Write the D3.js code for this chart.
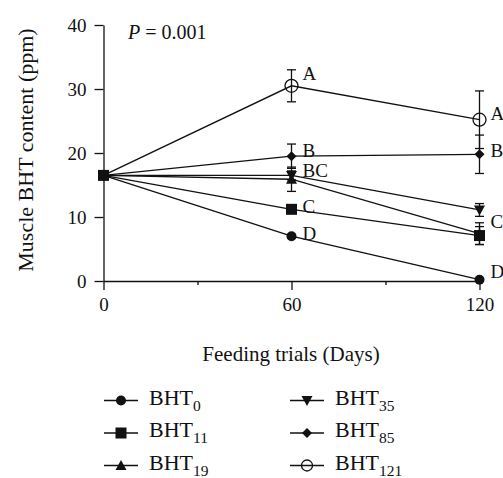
<!DOCTYPE html>
<html><head><meta charset="utf-8">
<script src="https://cdn.jsdelivr.net/npm/d3@7"></script>
<style>
html,body{margin:0;padding:0;background:#fff;}
svg text{font-family:"Liberation Serif","Times New Roman",serif;fill:#111;}
</style></head>
<body><svg id="c" width="503" height="478"></svg>
<script>
const days = [0, 60, 120];
const yTicks = [0, 10, 20, 30, 40];
const xMajorTicks = [0, 60, 120];
const xMinorTicks = [30, 90];
const seriesNames = ["BHT0", "BHT11", "BHT19", "BHT35", "BHT85", "BHT121"];
const seriesSubs = ["0", "11", "19", "35", "85", "121"];
const seriesSymbols = ["circle", "square", "triangle", "triangleDown", "diamond", "openCircle"];
const bht0 = [16.5, 7.0, 0.2];
const bht11 = [16.5, 11.2, 7.1];
const bht19 = [16.5, 15.9, 7.4];
const bht35 = [16.5, 16.5, 11.1];
const bht85 = [16.5, 19.5, 19.8];
const bht121 = [16.5, 30.5, 25.2];
const err0 = [0.3, 0.3, 0.2];
const err11 = [0.3, 0.4, 1.4];
const err19 = [0.3, 1.9, 1.7];
const err35 = [0.3, 0.7, 1.0];
const err85 = [0.3, 1.9, 3.0];
const err121 = [0.3, 2.5, 4.5];
const letterDays = [60, 60, 60, 60, 60, 120, 120, 120, 120];
const letterValues = [31.4, 19.4, 16.3, 10.6, 6.4, 25.2, 19.4, 8.3, 0.5];
const letterTexts = ["A", "B", "BC", "C", "D", "A", "B", "C", "D"];

const values = [bht0, bht11, bht19, bht35, bht85, bht121];
const errors = [err0, err11, err19, err35, err85, err121];

const svg = d3.select("#c");
const x = d3.scaleLinear().domain([0, 120]).range([103.5, 479.5]);
const y = d3.scaleLinear().domain([0, 40]).range([281, 25]);

// axes
const yAxis = svg.append("g").attr("transform", `translate(${x(0)},0)`)
  .call(d3.axisLeft(y).tickValues(yTicks).tickSize(9).tickSizeOuter(0).tickPadding(8));
yAxis.selectAll("text").style("font-size", "19px");
const xAxis = svg.append("g").attr("transform", `translate(0,${y(0)})`)
  .call(d3.axisBottom(x).tickValues(xMajorTicks).tickSize(9).tickSizeOuter(0).tickPadding(8));
xAxis.selectAll("text").style("font-size", "19px");
svg.append("g").attr("transform", `translate(0,${y(0)})`)
  .call(d3.axisBottom(x).tickValues(xMinorTicks).tickSize(4).tickFormat(""))
  .call(g => g.select(".domain").remove());
svg.selectAll(".domain, .tick line").attr("stroke", "#111").attr("stroke-width", 1.3);
svg.selectAll(".tick text").attr("fill", "#111").attr("font-family", null);

// titles
svg.append("text").attr("x", 291).attr("y", 361).attr("text-anchor", "middle")
  .style("font-size", "21px").text("Feeding trials (Days)");
svg.append("text").attr("transform", "translate(33,150) rotate(-90)").attr("text-anchor", "middle")
  .style("font-size", "22px").text("Muscle BHT content (ppm)");
const pt = svg.append("text").attr("x", 128).attr("y", 39).style("font-size", "20px");
pt.append("tspan").style("font-style", "italic").text("P");
pt.append("tspan").text(" = 0.001");

// symbols
function drawSymbol(g, type, cx, cy, small) {
  if (type === "circle") g.append("circle").attr("cx", cx).attr("cy", cy).attr("r", 5).attr("fill", "#111");
  else if (type === "openCircle") g.append("circle").attr("cx", cx).attr("cy", cy).attr("r", small ? 5.5 : 6.5).attr("fill", "none").attr("stroke", "#111").attr("stroke-width", 1.3);
  else if (type === "square") g.append("rect").attr("x", cx - 5.5).attr("y", cy - 5.5).attr("width", 11).attr("height", 11).attr("fill", "#111");
  else if (type === "triangle") g.append("path").attr("d", `M${cx},${cy-5.5}L${cx+5.5},${cy+4.5}L${cx-5.5},${cy+4.5}Z`).attr("fill", "#111");
  else if (type === "triangleDown") g.append("path").attr("d", `M${cx},${cy+5.5}L${cx+5.5},${cy-4.5}L${cx-5.5},${cy-4.5}Z`).attr("fill", "#111");
  else if (type === "diamond") g.append("path").attr("d", `M${cx},${cy-5}L${cx+5},${cy}L${cx},${cy+5}L${cx-5},${cy}Z`).attr("fill", "#111");
}

const line = d3.line().x((d, i) => x(days[i])).y(d => y(d));
const gLines = svg.append("g");
values.forEach(v => gLines.append("path").attr("d", line(v)).attr("fill", "none").attr("stroke", "#111").attr("stroke-width", 1.3));

const gErr = svg.append("g").attr("stroke", "#111").attr("stroke-width", 1.3);
values.forEach((v, s) => v.forEach((d, i) => {
  const e = errors[s][i], cx = x(days[i]);
  gErr.append("line").attr("x1", cx).attr("x2", cx).attr("y1", y(d - e)).attr("y2", y(d + e));
  [d - e, d + e].forEach(b => gErr.append("line").attr("x1", cx - 4.5).attr("x2", cx + 4.5).attr("y1", y(b)).attr("y2", y(b)));
}));

// markers: open circle first, then filled ones, square last (square on top at day 0)
const gSym = svg.append("g");
const drawOrder = [5, 0, 2, 3, 4, 1];
drawOrder.forEach(s => values[s].forEach((d, i) => {
  if (s === 5 && i === 0) return; // hidden beneath the stacked start markers
  drawSymbol(gSym, seriesSymbols[s], x(days[i]), y(d));
}));

// letters
letterTexts.forEach((t, i) => {
  svg.append("text").attr("x", x(letterDays[i]) + 11).attr("y", y(letterValues[i]))
    .style("font-size", "19px").text(t);
});

// legend
const legX = [104, 290];
const legY = [400.5, 433, 465.5];
seriesNames.forEach((n, i) => {
  const col = Math.floor(i / 3), row = i % 3;
  const lx = legX[col], ly = legY[row];
  const g = svg.append("g");
  g.append("line").attr("x1", lx).attr("x2", lx + 34).attr("y1", ly).attr("y2", ly).attr("stroke", "#111").attr("stroke-width", 1.3);
  drawSymbol(g, seriesSymbols[i], lx + 17, ly, true);
  const t = g.append("text").attr("x", lx + 45).attr("y", ly + 4).style("font-size", "22px");
  t.append("tspan").text("BHT");
  t.append("tspan").attr("dy", 6).style("font-size", "15.5px").text(seriesSubs[i]);
});
</script></body></html>
